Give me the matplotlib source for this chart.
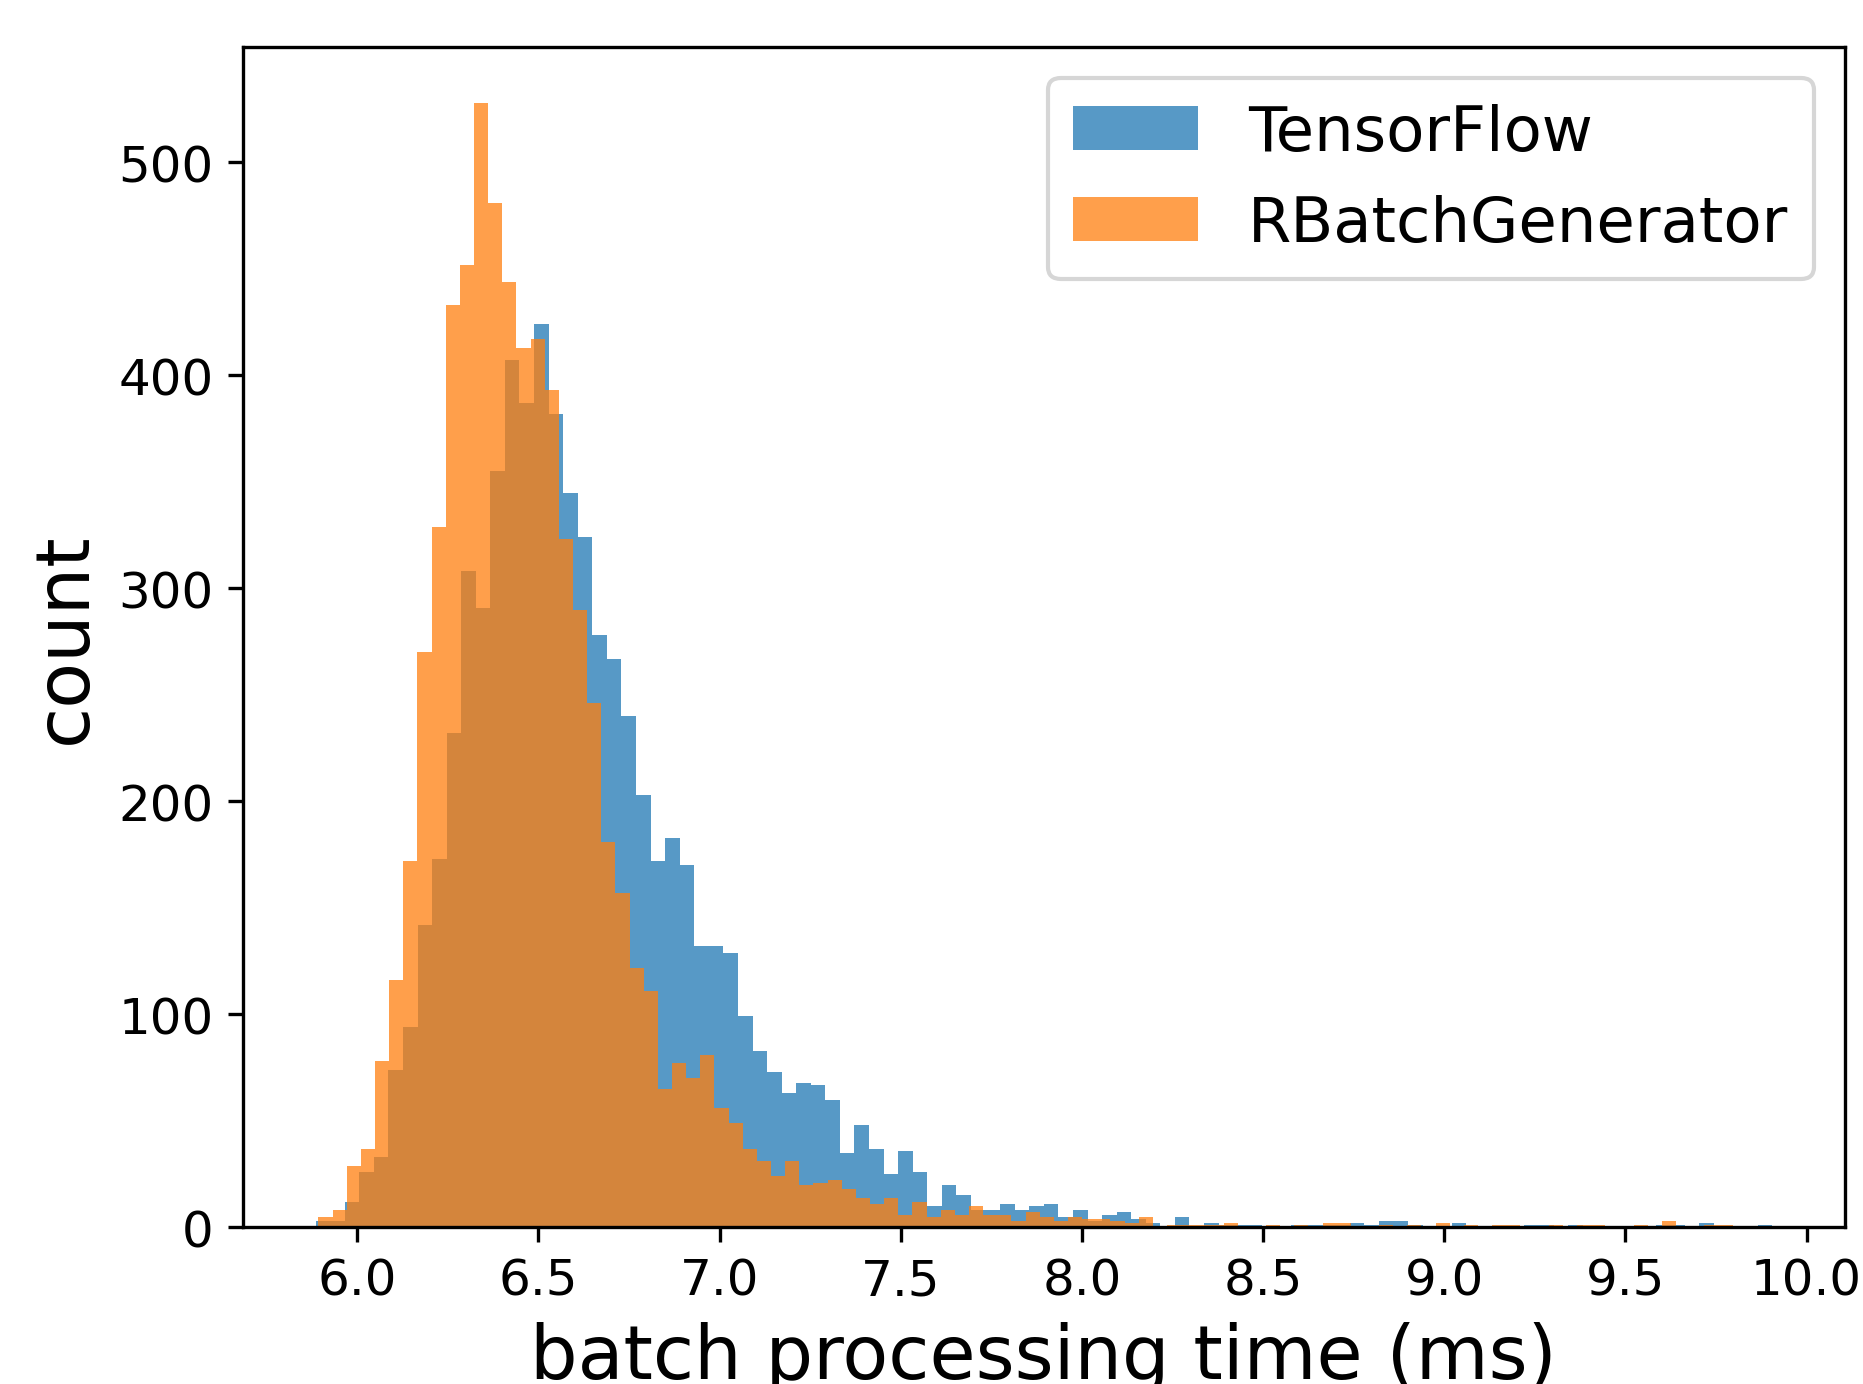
import numpy as np
import matplotlib
matplotlib.use("Agg")
import matplotlib.pyplot as plt

# histogram counts (100 bins per series)
tf_range = (5.885, 9.905)
tf_counts = [
    3, 3, 12, 26, 33, 74, 94, 142, 173, 232,
    308, 291, 355, 407, 387, 424, 382, 345, 324, 278,
    267, 240, 203, 172, 183, 170, 132, 132, 129, 99,
    83, 73, 63, 68, 67, 60, 35, 48, 37, 25,
    36, 26, 10, 20, 15, 8, 8, 11, 8, 10,
    11, 5, 8, 3, 6, 7, 4, 2, 0, 5,
    0, 2, 1, 1, 1, 0, 0, 1, 1, 1,
    1, 2, 1, 3, 3, 1, 0, 0, 2, 0,
    0, 0, 0, 1, 1, 0, 1, 0, 0, 0,
    0, 0, 1, 1, 0, 2, 0, 0, 0, 1,
]

rbg_range = (5.893, 9.796)
rbg_counts = [
    5, 8, 29, 37, 78, 116, 172, 270, 329, 433,
    452, 528, 481, 444, 413, 417, 393, 323, 290, 246,
    181, 157, 122, 111, 65, 77, 70, 81, 56, 49,
    37, 31, 24, 31, 20, 21, 22, 18, 14, 11,
    14, 6, 12, 5, 8, 6, 10, 6, 6, 3,
    7, 5, 3, 5, 4, 4, 3, 2, 5, 0,
    1, 1, 1, 1, 2, 0, 0, 1, 0, 1,
    0, 2, 2, 0, 0, 1, 0, 1, 0, 2,
    0, 1, 0, 1, 1, 0, 0, 1, 0, 1,
    1, 0, 0, 1, 0, 3, 0, 0, 1, 1,
]

labels = ["TensorFlow", "RBatchGenerator"]

plt.rcParams["xtick.labelsize"] = 12
plt.rcParams["ytick.labelsize"] = 12

fig = plt.figure(figsize=(1863 / 300, 1385 / 300), dpi=300)
ax = fig.add_axes([0.1303, 0.1131, 0.9903 - 0.1303, 0.9657 - 0.1131])

for rng, counts, lab in [(tf_range, tf_counts, labels[0]), (rbg_range, rbg_counts, labels[1])]:
    edges = np.linspace(rng[0], rng[1], len(counts) + 1)
    centers = (edges[:-1] + edges[1:]) / 2
    ax.hist(centers, bins=edges, weights=counts, alpha=0.75, label=lab)

ax.set_xticks(np.arange(6.0, 10.01, 0.5))
ax.set_xlabel("batch processing time (ms)", fontsize=18)
ax.set_ylabel("count", fontsize=18)
ax.legend(fontsize=15)

fig.savefig("out.png", dpi=300)
